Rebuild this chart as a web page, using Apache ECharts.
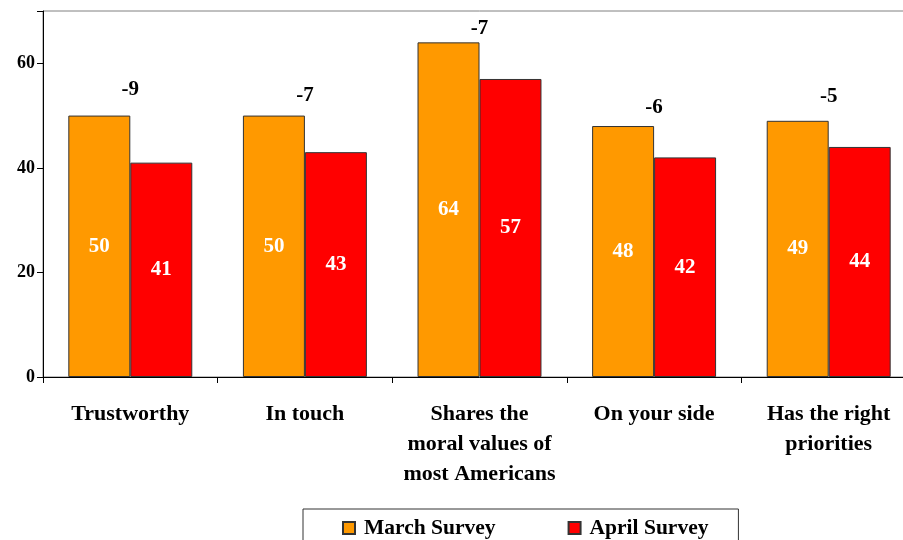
<!DOCTYPE html>
<html>
<head>
<meta charset="utf-8">
<script src="https://cdn.jsdelivr.net/npm/echarts@6/dist/echarts.min.js"></script>
<style>html,body{margin:0;padding:0;background:#fff;overflow:hidden;}#c{width:920px;height:540px;}</style>
</head>
<body>
<div id="c"></div>
<script>
const categories = ["Trustworthy", "In touch", "Shares the\nmoral values of\nmost Americans", "On your side", "Has the right\npriorities"];
const march = [50, 50, 64, 48, 49];
const april = [41, 43, 57, 42, 44];
const diffLabels = ["-9", "-7", "-7", "-6", "-5"];
const diffLabelValue = [55.0, 53.9, 66.6, 51.6, 53.6];
const yTicks = [0, 20, 40, 60];

const FONT = '"Liberation Serif", "Times New Roman", serif';
const chart = echarts.init(document.getElementById('c'), null, {renderer: 'canvas'});
chart.setOption({
  backgroundColor: '#fff',
  animation: false,
  textStyle: {fontFamily: FONT},
  grid: {left: 43, top: 11, right: 4, bottom: 163, show: true, borderColor: '#808080', borderWidth: 1, containLabel: false},
  legend: {
    data: ['March Survey', 'April Survey'],
    left: 303, top: 509,
    orient: 'horizontal',
    icon: 'rect', itemWidth: 12, itemHeight: 12,
    itemGap: 72,
    padding: [8, 30, 14, 39],
    borderColor: '#333', borderWidth: 1,
    textStyle: {fontFamily: FONT, fontSize: 21.5, fontWeight: 'bold', color: '#000', padding: [0, 0, 0, 4]},
    selectedMode: false
  },
  xAxis: {
    type: 'category',
    data: categories,
    axisLine: {lineStyle: {color: '#000', width: 1}},
    axisTick: {show: true, length: 6, alignWithLabel: false, lineStyle: {color: '#000'}},
    axisLabel: {interval: 0, margin: 22, fontFamily: FONT, fontSize: 22, fontWeight: 'bold', color: '#000', lineHeight: 30}
  },
  yAxis: {
    type: 'value', min: 0, max: 70, interval: 20,
    axisLine: {show: true, lineStyle: {color: '#000', width: 1}},
    axisTick: {show: true, length: 6, lineStyle: {color: '#000'}},
    splitLine: {show: false},
    axisLabel: {margin: 8, fontFamily: FONT, fontSize: 18, fontWeight: 'bold', color: '#000',
      formatter: v => yTicks.includes(v) ? String(v) : ''}
  },
  series: [
    {
      name: 'March Survey', type: 'bar', data: march,
      barWidth: '35.5%', barGap: '0%',
      itemStyle: {color: '#FF9900', borderColor: '#333', borderWidth: 1},
      label: {show: true, position: 'inside', fontFamily: FONT, fontSize: 21, fontWeight: 'bold', color: '#fff'}
    },
    {
      name: 'April Survey', type: 'bar', data: april,
      barWidth: '35.5%', barGap: '0%',
      itemStyle: {color: '#FF0000', borderColor: '#333', borderWidth: 1},
      label: {show: true, position: 'inside', fontFamily: FONT, fontSize: 21, fontWeight: 'bold', color: '#fff'}
    },
    {
      name: 'diff', type: 'custom', silent: true,
      data: diffLabelValue.map((v, i) => [i, v]),
      renderItem: function (params, api) {
        const pt = api.coord([api.value(0), api.value(1)]);
        return {
          type: 'text',
          x: pt[0], y: pt[1],
          style: {
            text: diffLabels[params.dataIndex],
            fill: '#000',
            font: 'bold 21px "Liberation Serif", "Times New Roman", serif',
            align: 'center', verticalAlign: 'middle'
          }
        };
      }
    }
  ]
});
</script>
</body>
</html>
